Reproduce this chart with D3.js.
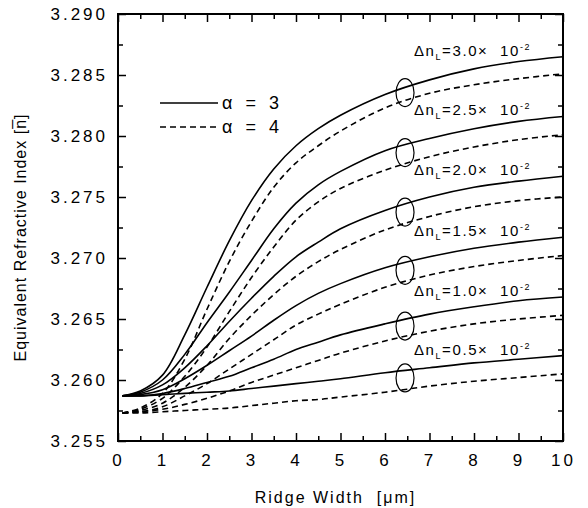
<!DOCTYPE html>
<html>
<head>
<meta charset="utf-8">
<script src="https://cdn.jsdelivr.net/npm/d3@7"></script>
<style>
  body { margin: 0; background: #fff; }
  svg { font-family: "Liberation Sans", Arial, sans-serif; }
  text { white-space: pre; }
</style>
</head>
<body>
<script>
const w = 588;
const h = 508;
const margin = {top: 14, right: 25, bottom: 67, left: 118};

// ridge width (um) sample points
const widths = [0.1, 0.5, 1, 1.5, 2, 2.5, 3, 3.5, 4, 4.5, 5, 6, 7, 8, 9, 10];

// alpha = 3 (solid)
const solid30 = [3.2587, 3.2591, 3.2604, 3.2637, 3.2676, 3.2714, 3.2747, 3.2773, 3.2792, 3.2806, 3.2817, 3.2834, 3.2846, 3.2855, 3.2861, 3.2865];
const solid25 = [3.2587, 3.2590, 3.2600, 3.2621, 3.2647, 3.2672, 3.2698, 3.2724, 3.2745, 3.2760, 3.2771, 3.2788, 3.2798, 3.2806, 3.2812, 3.2816];
const solid20 = [3.2587, 3.2589, 3.2596, 3.2610, 3.2628, 3.2648, 3.2667, 3.2685, 3.2701, 3.2713, 3.2724, 3.2739, 3.2750, 3.2758, 3.2763, 3.2767];
const solid15 = [3.2587, 3.2588, 3.2592, 3.2601, 3.2612, 3.2624, 3.2636, 3.2649, 3.2661, 3.2671, 3.2679, 3.2692, 3.2701, 3.2708, 3.2713, 3.2717];
const solid10 = [3.2587, 3.2587, 3.2589, 3.2593, 3.2598, 3.2603, 3.2610, 3.2617, 3.2625, 3.2631, 3.2637, 3.2646, 3.2654, 3.2660, 3.2665, 3.2668];
const solid05 = [3.2587, 3.2587, 3.2588, 3.2589, 3.2590, 3.2591, 3.2593, 3.2595, 3.2597, 3.2599, 3.2601, 3.2606, 3.2610, 3.2614, 3.2617, 3.2620];

// alpha = 4 (dashed)
const dash30 = [3.2573, 3.2577, 3.2589, 3.2617, 3.2658, 3.2697, 3.2730, 3.2758, 3.2778, 3.2792, 3.2804, 3.2823, 3.2835, 3.2842, 3.2847, 3.2851];
const dash25 = [3.2573, 3.2576, 3.2585, 3.2603, 3.2627, 3.2656, 3.2684, 3.2709, 3.2731, 3.2746, 3.2757, 3.2772, 3.2783, 3.2791, 3.2797, 3.2801];
const dash20 = [3.2573, 3.2575, 3.2581, 3.2594, 3.2612, 3.2634, 3.2653, 3.2670, 3.2685, 3.2697, 3.2707, 3.2723, 3.2734, 3.2742, 3.2747, 3.2750];
const dash15 = [3.2573, 3.2574, 3.2578, 3.2587, 3.2597, 3.2609, 3.2621, 3.2633, 3.2645, 3.2654, 3.2662, 3.2676, 3.2686, 3.2693, 3.2698, 3.2702];
const dash10 = [3.2573, 3.2574, 3.2576, 3.2580, 3.2585, 3.2591, 3.2598, 3.2604, 3.2610, 3.2616, 3.2622, 3.2632, 3.2640, 3.2646, 3.2650, 3.2653];
const dash05 = [3.2573, 3.2573, 3.2574, 3.2575, 3.2576, 3.2577, 3.2579, 3.2581, 3.2583, 3.2584, 3.2586, 3.2590, 3.2595, 3.2599, 3.2602, 3.2605];

const deltaN = ["3.0", "2.5", "2.0", "1.5", "1.0", "0.5"];
const solids = [solid30, solid25, solid20, solid15, solid10, solid05];
const dashes = [dash30, dash25, dash20, dash15, dash10, dash05];

const yTicks = [3.255, 3.260, 3.265, 3.270, 3.275, 3.280, 3.285, 3.290];
const xTicks = [0, 1, 2, 3, 4, 5, 6, 7, 8, 9, 10];
const ellipseAt = 6.45;

const xScale = d3.scaleLinear()
    .domain([0, 10])
    .range([margin.left, w - margin.right]);

const yScale = d3.scaleLinear()
    .domain([3.255, 3.290])
    .range([h - margin.bottom, margin.top]);

const svg = d3.select("body")
    .append("svg")
    .attr("width", w)
    .attr("height", h);

const x0 = margin.left, x1 = w - margin.right;
const y0 = h - margin.bottom, y1 = margin.top;

// minor tick values
const xMinor = d3.range(0.5, 10, 1);
const yMinor = d3.range(3.2575, 3.290, 0.005);

function styleAxis(g) {
    g.select(".domain").remove();
    g.selectAll(".tick line").attr("stroke", "#000").attr("stroke-width", 1.5);
    g.selectAll("text")
        .attr("fill", "#000")
        .style("font-size", "17px")
        .style("letter-spacing", "3px");
}

// bottom
svg.append("g")
    .attr("transform", `translate(0, ${y0})`)
    .call(d3.axisBottom(xScale).tickValues(xTicks).tickSize(-8).tickPadding(13).tickFormat(d3.format("d")))
    .call(styleAxis);
svg.append("g")
    .attr("transform", `translate(0, ${y0})`)
    .call(d3.axisBottom(xScale).tickValues(xMinor).tickSize(-5).tickFormat(""))
    .call(styleAxis);
// top
svg.append("g")
    .attr("transform", `translate(0, ${y1})`)
    .call(d3.axisTop(xScale).tickValues(xTicks).tickSize(-8).tickFormat(""))
    .call(styleAxis);
svg.append("g")
    .attr("transform", `translate(0, ${y1})`)
    .call(d3.axisTop(xScale).tickValues(xMinor).tickSize(-5).tickFormat(""))
    .call(styleAxis);
// left
svg.append("g")
    .attr("transform", `translate(${x0}, 0)`)
    .call(d3.axisLeft(yScale).tickValues(yTicks).tickSize(-8).tickPadding(10).tickFormat(d3.format(".3f")))
    .call(styleAxis);
svg.append("g")
    .attr("transform", `translate(${x0}, 0)`)
    .call(d3.axisLeft(yScale).tickValues(yMinor).tickSize(-5).tickFormat(""))
    .call(styleAxis);
// right
svg.append("g")
    .attr("transform", `translate(${x1}, 0)`)
    .call(d3.axisRight(yScale).tickValues(yTicks).tickSize(-8).tickFormat(""))
    .call(styleAxis);
svg.append("g")
    .attr("transform", `translate(${x1}, 0)`)
    .call(d3.axisRight(yScale).tickValues(yMinor).tickSize(-5).tickFormat(""))
    .call(styleAxis);

// frame
svg.append("rect")
    .attr("x", x0)
    .attr("y", y1)
    .attr("width", x1 - x0)
    .attr("height", y0 - y1)
    .attr("fill", "none")
    .attr("stroke", "#000")
    .attr("stroke-width", 2);

const line = d3.line()
    .x((d, i) => xScale(widths[i]))
    .y(d => yScale(d))
    .curve(d3.curveCatmullRom.alpha(0.5));

svg.append("g")
    .selectAll("path")
    .data(solids)
    .enter()
    .append("path")
    .attr("d", line)
    .attr("fill", "none")
    .attr("stroke", "#000")
    .attr("stroke-width", 1.6);

svg.append("g")
    .selectAll("path")
    .data(dashes)
    .enter()
    .append("path")
    .attr("d", line)
    .attr("fill", "none")
    .attr("stroke", "#000")
    .attr("stroke-width", 1.6)
    .attr("stroke-dasharray", "6,4");

// value of a series at x, by linear lookup between samples
function valueAt(series, x) {
    const i = d3.bisectLeft(widths, x);
    const t = (x - widths[i - 1]) / (widths[i] - widths[i - 1]);
    return series[i - 1] + t * (series[i] - series[i - 1]);
}

// ellipses grouping each pair
svg.append("g")
    .selectAll("ellipse")
    .data(deltaN)
    .enter()
    .append("ellipse")
    .attr("cx", xScale(ellipseAt))
    .attr("cy", (d, i) => (yScale(valueAt(solids[i], ellipseAt)) + yScale(valueAt(dashes[i], ellipseAt))) / 2 - 2)
    .attr("rx", 9)
    .attr("ry", 14)
    .attr("fill", "none")
    .attr("stroke", "#000")
    .attr("stroke-width", 1.2);

// delta n labels
const labels = svg.append("g")
    .selectAll("text")
    .data(deltaN)
    .enter()
    .append("text")
    .attr("x", xScale(6.65))
    .attr("y", (d, i) => yScale(solids[i][solids[i].length - 1]) - 1)
    .attr("fill", "#000")
    .style("font-size", "15px")
    .style("letter-spacing", "1.6px");
labels.append("tspan").text("\u0394n");
labels.append("tspan").attr("dy", 4).style("font-size", "9px").text("L");
labels.append("tspan").attr("dy", -4).text(d => `=${d}\u00d7  10`);
labels.append("tspan").attr("dy", -6).style("font-size", "9px").text("-2");

// legend
const legend = svg.append("g");
legend.append("line")
    .attr("x1", 160).attr("x2", 218)
    .attr("y1", 103).attr("y2", 103)
    .attr("stroke", "#000").attr("stroke-width", 1.6);
legend.append("line")
    .attr("x1", 160).attr("x2", 218)
    .attr("y1", 127).attr("y2", 127)
    .attr("stroke", "#000").attr("stroke-width", 1.6)
    .attr("stroke-dasharray", "6,4");
legend.append("text")
    .attr("x", 222).attr("y", 109)
    .style("font-size", "18px").style("letter-spacing", "4px")
    .text("\u03b1 = 3");
legend.append("text")
    .attr("x", 222).attr("y", 133)
    .style("font-size", "18px").style("letter-spacing", "4px")
    .text("\u03b1 = 4");

// axis titles
svg.append("text")
    .attr("x", (x0 + x1) / 2 - 5)
    .attr("y", 503)
    .attr("text-anchor", "middle")
    .style("font-size", "16px")
    .style("letter-spacing", "2px")
    .text("Ridge Width  [\u03bcm]");

svg.append("text")
    .attr("transform", `translate(26, ${(y0 + y1) / 2 + 10}) rotate(-90)`)
    .attr("text-anchor", "middle")
    .style("font-size", "16px")
    .style("letter-spacing", "1px")
    .text("Equivalent Refractive Index [n\u0305]");
</script>
</body>
</html>
